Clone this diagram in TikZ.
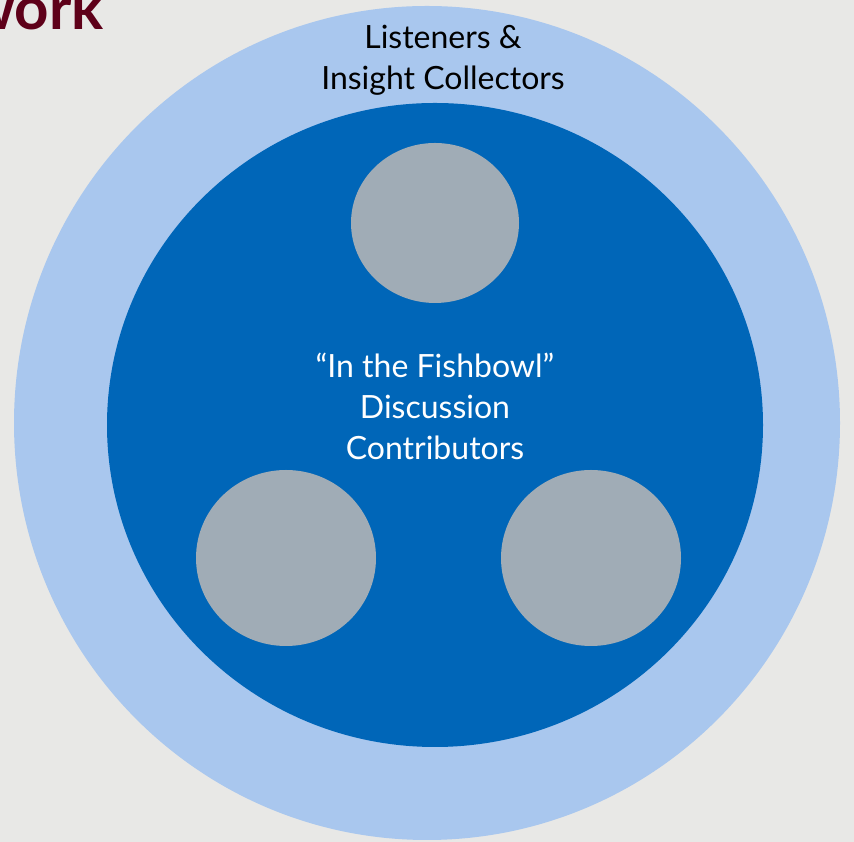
\documentclass[tikz,border=0pt]{standalone}
\usepackage{fontspec}
\setmainfont{Lato}
\definecolor{bgc}{HTML}{E8E8E6}
\definecolor{outerc}{HTML}{A9C7EE}
\definecolor{innerc}{HTML}{0066B8}
\definecolor{grayc}{HTML}{A0ACB6}
\definecolor{maroonc}{HTML}{5E0019}
\begin{document}
\begin{tikzpicture}[x=1pt,y=1pt,
  disc/.style={fill=#1,draw=none},
  lbl/.style={align=center,font=\fontsize{32}{41}\selectfont}]
\useasboundingbox (0,0) rectangle (854,842);
\fill[bgc] (0,0) rectangle (854,842);
\node[anchor=base east,text=maroonc,font=\fontsize{60}{60}\selectfont\bfseries,inner sep=0] (title) at (104,812) {Framework};
\fill[disc=outerc] (427,419) ellipse [x radius=413, y radius=417];
\fill[disc=innerc] (435,417) ellipse [x radius=328, y radius=322];
\fill[disc=grayc] (435,619) ellipse [x radius=84, y radius=80];
\fill[disc=grayc] (286,284) ellipse [x radius=90, y radius=88];
\fill[disc=grayc] (591,284) ellipse [x radius=90, y radius=88];
\node[lbl,text=black] (outer) at (443,782) {Listeners \&\\Insight Collectors};
\node[lbl,text=white] (inner) at (435,436) {“In the Fishbowl”\\Discussion\\Contributors};
\end{tikzpicture}
\end{document}
